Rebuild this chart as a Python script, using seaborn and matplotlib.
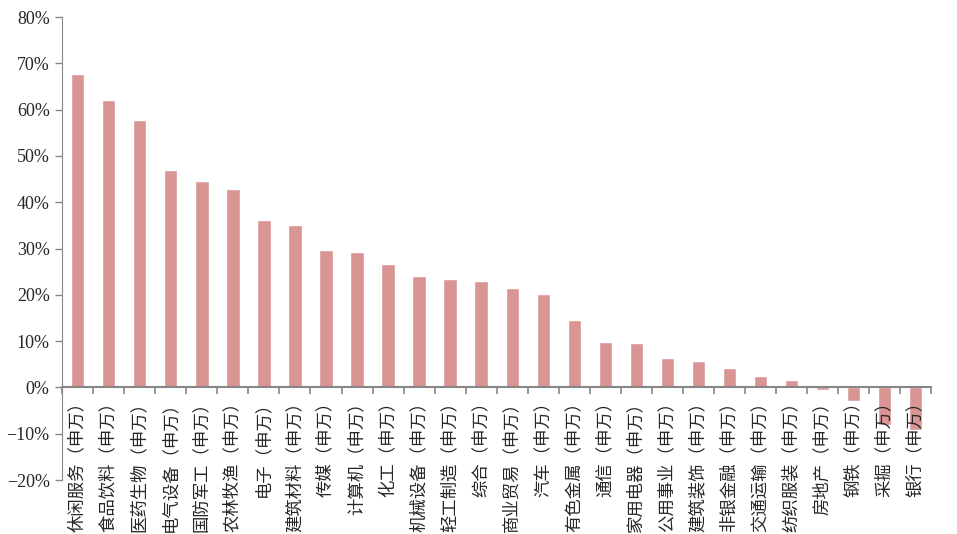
import numpy as np
import pandas as pd
from matplotlib import pyplot as plt
from matplotlib.ticker import FuncFormatter, FixedLocator
import seaborn as sns

industries = ["休闲服务", "食品饮料", "医药生物", "电气设备", "国防军工", "农林牧渔",
              "电子", "建筑材料", "传媒", "计算机", "化工", "机械设备", "轻工制造",
              "综合", "商业贸易", "汽车", "有色金属", "通信", "家用电器", "公用事业",
              "建筑装饰", "非银金融", "交通运输", "纺织服装", "房地产", "钢铁", "采掘", "银行"]
labels = [f"{n}（申万）" for n in industries]
# 涨跌幅 (%)
returns = [67.8, 62.0, 57.7, 46.9, 44.5, 42.8, 36.1, 35.2, 29.8, 29.2, 26.6, 24.0, 23.5,
           23.1, 21.4, 20.1, 14.5, 9.8, 9.7, 6.3, 5.8, 4.1, 2.4, 1.7, -0.6, -3.0, -8.0, -9.1]

df = pd.DataFrame({"industry": labels, "ret": returns})

sns.set_style("white")
plt.rcParams['font.family'] = ['Liberation Serif', 'Noto Sans CJK SC', 'DejaVu Sans']

fig = plt.figure(figsize=(9.57, 5.34), dpi=100)
ax = fig.add_axes([0.065, 0.101, 0.908, 0.867])

sns.barplot(data=df, x="industry", y="ret", color="#D99594", saturation=1,
            width=0.43, ax=ax, zorder=1)

ax.set_axisbelow(False)
ax.set_xlim(-0.5, len(labels) - 0.5)
ax.set_ylim(-20, 80)
ax.set_yticks(np.arange(-20, 81, 10))
ax.yaxis.set_major_formatter(FuncFormatter(lambda v, p: f"{v:.0f}%".replace("-", "\u2212")))

axis_color = "#868686"
for s in ["top", "right"]:
    ax.spines[s].set_visible(False)
ax.spines["left"].set_color(axis_color)
ax.spines["bottom"].set_color(axis_color)
ax.spines["bottom"].set_linewidth(1.5)
ax.spines["bottom"].set_position(("data", 0))

ax.tick_params(axis="y", which="major", direction="out", length=5, width=1,
               color=axis_color, labelsize=13, pad=4, left=True)
ax.tick_params(axis="x", which="major", length=0, labelsize=12.5, pad=4, bottom=True)
ax.xaxis.set_minor_locator(FixedLocator(np.arange(-0.5, len(labels), 1)))
ax.tick_params(axis="x", which="minor", direction="out", length=5, width=1.2,
               color=axis_color, bottom=True)

for t in ax.get_xticklabels():
    t.set_rotation(90)
    t.set_va("top")
    t.set_ha("center")

ax.set_xlabel("")
ax.set_ylabel("")
ax.grid(False)

plt.savefig("out.png", dpi=100)
